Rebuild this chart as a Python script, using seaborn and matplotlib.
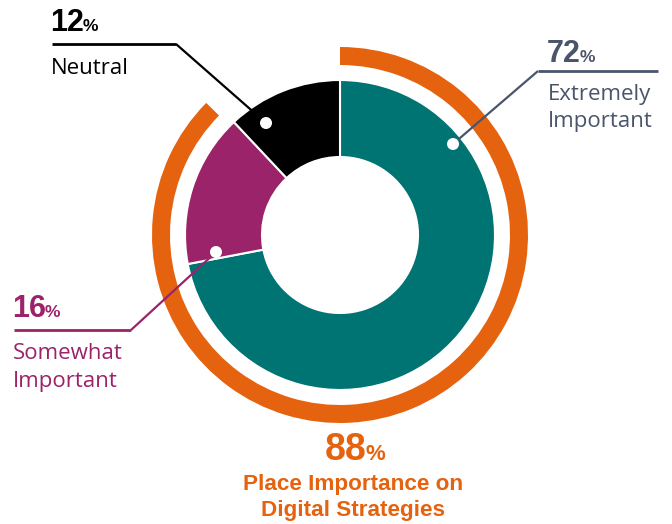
import matplotlib
matplotlib.use("Agg")
import matplotlib.pyplot as plt
import seaborn as sns

# ---- data ----
categories = ["Extremely Important", "Somewhat Important", "Neutral"]
label_lines = [["Extremely", "Important"], ["Somewhat", "Important"], ["Neutral"]]
values = [72, 16, 12]
ring_value = 88
ring_title = ["Place Importance on", "Digital Strategies"]

# ---- style ----
sns.set_theme(style="white")
plt.rcParams["font.family"] = ["Open Sans", "DejaVu Sans"]

TEAL = "#007373"
PURPLE = "#9B2369"
BLACK = "#000000"
ORANGE = "#E5620F"
SLATE = "#4A556B"
colors = [TEAL, PURPLE, BLACK]
label_colors = [SLATE, PURPLE, BLACK]

W, H = 672, 524
fig = plt.figure(figsize=(W / 100, H / 100), dpi=100)
ax = fig.add_axes([0, 0, 1, 1])

def Y(y):  # convert top-origin pixel y to data y
    return H - y

cx, cy = 340, Y(235)
R_OUT, R_W = 155, 77
RING_R, RING_W = 188, 18

# donut
ax.pie(values, colors=colors, radius=R_OUT, center=(cx, cy), startangle=90,
       counterclock=False,
       wedgeprops=dict(width=R_W, edgecolor="white", linewidth=1.5))
# outer ring (88%)
ax.pie([ring_value - 0.6, 100 - ring_value + 0.6], colors=[ORANGE, "none"],
       radius=RING_R, center=(cx, cy), startangle=90, counterclock=False,
       wedgeprops=dict(width=RING_W, linewidth=0))

ax.set_xlim(0, W)
ax.set_ylim(0, H)
ax.set_aspect("auto")
ax.axis("off")

# label layout: (dot, elbow, line end, text x, number baseline, label baselines)
layouts = [
    dict(dot=(453, 144), elbow=(538, 71), end=(658, 71), tx=547, nb=62, lb=[100, 127]),
    dict(dot=(216, 252), elbow=(131, 330), end=(14, 330), tx=12, nb=317, lb=[359, 387]),
    dict(dot=(266, 123), elbow=(176, 44), end=(52, 44), tx=50, nb=31, lb=[74]),
]

fig.canvas.draw()
renderer = fig.canvas.get_renderer()

def number_with_pct(x, y, num, color, size, psize, ha="left", gap=0):
    t = ax.text(x, y, str(num), fontsize=size, fontweight="bold", color=color,
                family=["Liberation Sans"], ha="left", va="baseline")
    bb = t.get_window_extent(renderer)
    p = ax.text(bb.x1 + gap, y, "%", fontsize=psize, fontweight="bold", color=color,
                family=["Liberation Sans"], ha="left", va="baseline")
    if ha == "center":
        pb = p.get_window_extent(renderer)
        total = pb.x1 - bb.x0
        shift = x - total / 2 - bb.x0
        t.set_x(bb.x0 + shift)
        p.set_x(bb.x1 + gap + shift)

for val, lines, col, lay in zip(values, label_lines, label_colors, layouts):
    dx, dy = lay["dot"]
    ex, ey = lay["elbow"]
    lx, ly = lay["end"]
    ax.plot([dx, ex], [Y(dy), Y(ey)], color=col, lw=1.6, solid_capstyle="butt", zorder=5)
    ax.plot([ex, lx], [Y(ey), Y(ly)], color=col, lw=2.0, solid_capstyle="butt", zorder=5)
    ax.scatter([dx], [Y(dy)], s=75, color="white", edgecolor="none", zorder=6)
    number_with_pct(lay["tx"], Y(lay["nb"]), val, col, 22, 12.5, gap=-1)
    for line, b in zip(lines, lay["lb"]):
        ax.text(lay["tx"] + 1, Y(b), line, fontsize=16, color=col, ha="left", va="baseline")

# bottom title
number_with_pct(355, Y(460), ring_value, ORANGE, 27, 16, ha="center", gap=0)
for line, b in zip(ring_title, [490, 516]):
    ax.text(353, Y(b), line, fontsize=16.2, fontweight="bold", color=ORANGE,
            family=["Liberation Sans"], ha="center", va="baseline")

fig.savefig("out.png", dpi=100)
